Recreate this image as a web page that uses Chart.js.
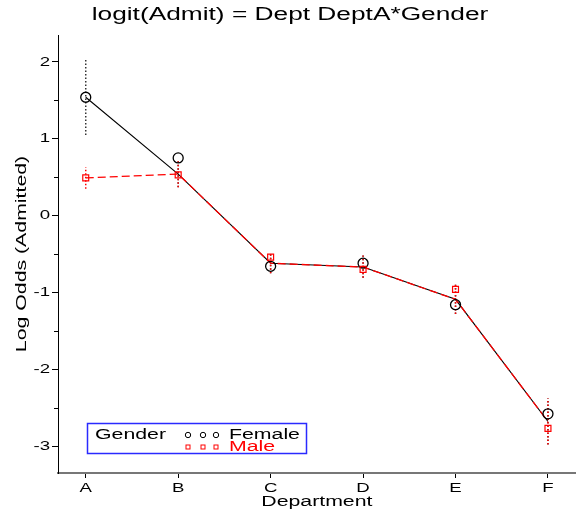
<!DOCTYPE html>
<html><head><meta charset="utf-8">
<script src="https://cdn.jsdelivr.net/npm/chart.js@4/dist/chart.umd.min.js"></script>
<style>html,body{margin:0;padding:0;background:#fff}#wrap{width:582px;height:512px;position:relative}</style>
</head><body><div id="wrap"><canvas id="c" width="582" height="512"></canvas></div>
<script>
const departments = ['A','B','C','D','E','F'];
const femaleObserved = [1.54, 0.75, -0.66, -0.62, -1.16, -2.58];
const maleObserved   = [0.49, 0.53, -0.54, -0.70, -0.96, -2.77];
const femaleFitted   = [1.54, 0.54, -0.62, -0.67, -1.09, -2.68];
const maleFitted     = [0.49, 0.54, -0.62, -0.67, -1.09, -2.68];
const femaleLow  = [1.05, 0.37, -0.75, -0.81, -1.28, -2.98];
const femaleHigh = [2.04, 0.71, -0.48, -0.52, -0.90, -2.38];
const maleLow    = [0.35, 0.37, -0.75, -0.81, -1.28, -2.98];
const maleHigh   = [0.63, 0.71, -0.48, -0.52, -0.90, -2.38];
const yTicks = [-3, -2.5, -2, -1.5, -1, -0.5, 0, 0.5, 1, 1.5, 2];

const FONT = "'Liberation Sans', Arial, Helvetica, sans-serif";
const pts = arr => arr.map((v, i) => ({x: i, y: v}));

// The reference uses a horizontally wide sans font: widen glyphs on the canvas.
const canvas = document.getElementById('c');
const ctx2d = canvas.getContext('2d');
const origFill = ctx2d.fillText.bind(ctx2d);
const origMeasure = ctx2d.measureText.bind(ctx2d);
function stretchFor(font){
  const m = /(\d+(?:\.\d+)?)px/.exec(font); const s = m ? parseFloat(m[1]) : 0;
  if (s >= 17) return 1.46;
  if (s >= 14) return 1.52;
  return 1.38;
}
ctx2d.fillText = function(t, x, y, mw){
  const sx = stretchFor(this.font);
  this.save(); this.translate(x, y); this.scale(sx, 1);
  if (mw !== undefined) origFill(t, 0, 0, mw / sx); else origFill(t, 0, 0);
  this.restore();
};
ctx2d.measureText = function(t){
  const m = origMeasure(t); const sx = stretchFor(this.font);
  return {width: m.width * sx,
    actualBoundingBoxAscent: m.actualBoundingBoxAscent,
    actualBoundingBoxDescent: m.actualBoundingBoxDescent,
    actualBoundingBoxLeft: m.actualBoundingBoxLeft * sx,
    actualBoundingBoxRight: m.actualBoundingBoxRight * sx};
};

const datasets = [];
departments.forEach((d, i) => {
  datasets.push({type:'line', order:10, data:[{x:i,y:femaleLow[i]},{x:i,y:femaleHigh[i]}],
    borderColor:'#333', borderWidth:1.5, borderDash:[1.5,2], pointRadius:0, fill:false});
});
departments.forEach((d, i) => {
  datasets.push({type:'line', order:9, data:[{x:i,y:maleLow[i]},{x:i,y:maleHigh[i]}],
    borderColor:'#ff0000', borderWidth:1.5, borderDash:[1.5,2], pointRadius:0, fill:false});
});
datasets.push({type:'line', order:8, data: pts(femaleFitted), borderColor:'#000', borderWidth:1.1, pointRadius:0, fill:false, tension:0});
datasets.push({type:'line', order:7, data: pts(maleFitted), borderColor:'#ff0000', borderWidth:1.3, borderDash:[8,4], pointRadius:0, fill:false, tension:0});
datasets.push({type:'scatter', order:6, data: pts(femaleObserved), showLine:false, pointStyle:'circle', pointRadius:5,
  pointBorderColor:'#000', pointBackgroundColor:'rgba(0,0,0,0)', pointBorderWidth:1.3});
datasets.push({type:'scatter', order:5, data: pts(maleObserved), showLine:false, pointStyle:'rect', pointRadius:4.2,
  pointBorderColor:'#ff0000', pointBackgroundColor:'rgba(0,0,0,0)', pointBorderWidth:1.2});

const minorTicks = {
  id:'minorTicks',
  afterDraw(chart){
    const ctx = chart.ctx, y = chart.scales.y, x0 = chart.chartArea.left;
    ctx.save(); ctx.strokeStyle='#000'; ctx.lineWidth=1;
    yTicks.forEach(v => {
      if (Number.isInteger(v)) return;
      const py = Math.round(y.getPixelForValue(v)) + 0.5;
      ctx.beginPath(); ctx.moveTo(x0 - 4, py); ctx.lineTo(x0, py); ctx.stroke();
    });
    ctx.restore();
  }
};

const legendBox = {
  id:'legendBox',
  afterDraw(chart){
    const ctx = chart.ctx;
    ctx.save();
    ctx.strokeStyle = '#2a2aff'; ctx.lineWidth = 1.5;
    ctx.strokeRect(87.5, 423.5, 219, 30);
    ctx.font = '14px ' + FONT; ctx.textBaseline = 'middle'; ctx.textAlign='left';
    ctx.fillStyle = '#000';
    ctx.fillText('Gender', 95, 435);
    ctx.fillText('Female', 229, 435);
    ctx.fillStyle = '#ff0000';
    ctx.fillText('Male', 229, 447);
    [188, 203, 216].forEach(cx => {
      ctx.strokeStyle='#000'; ctx.lineWidth=1;
      ctx.beginPath(); ctx.arc(cx, 435, 2.7, 0, Math.PI*2); ctx.stroke();
      ctx.strokeStyle='#ff0000';
      ctx.strokeRect(cx - 2, 445, 4, 4);
    });
    ctx.restore();
  }
};

new Chart(canvas, {
  data: { datasets },
  plugins: [minorTicks, legendBox],
  options: {
    responsive:false, animation:false,
    layout:{padding:{left:0,right:2,top:0,bottom:0}},
    plugins:{
      legend:{display:false}, tooltip:{enabled:false},
      title:{display:true, text:'logit(Admit) = Dept DeptA*Gender', color:'#000',
        font:{family:FONT, size:18, weight:'normal'}, padding:{top:4,bottom:9.4}}
    },
    scales:{
      x:{type:'linear', min:-0.3, max:5.3,
        afterBuildTicks: s => { s.ticks = departments.map((d,i)=>({value:i})); },
        afterFit: s => { s.height = 39; },
        ticks:{callback:(v)=>departments[v] ?? '', color:'#000', font:{family:FONT,size:13.5}, padding:2, maxRotation:0, autoSkip:false},
        grid:{display:true, drawOnChartArea:false, tickLength:5, tickColor:'#000'},
        border:{display:true, color:'#777', width:2},
        title:{display:true, text:'Department', color:'#000', font:{family:FONT,size:14}, padding:{top:0,bottom:1}}
      },
      y:{type:'linear', min:-3.35, max:2.35,
        afterBuildTicks: s => { s.ticks = yTicks.map(v=>({value:v})); },
        afterFit: s => { s.width = 58; },
        ticks:{callback:(v)=>Number.isInteger(v)? String(v) : '', color:'#000', font:{family:FONT,size:13.5}, padding:2, autoSkip:false},
        grid:{display:true, drawOnChartArea:false, tickLength:6,
          tickColor: c => (c.tick && Number.isInteger(c.tick.value)) ? '#000' : 'rgba(0,0,0,0)'},
        border:{display:true, color:'#000', width:1},
        title:{display:true, text:'Log Odds (Admitted)', color:'#000', font:{family:FONT,size:14}, padding:{top:13.6,bottom:0}}
      }
    }
  }
});
</script></body></html>
